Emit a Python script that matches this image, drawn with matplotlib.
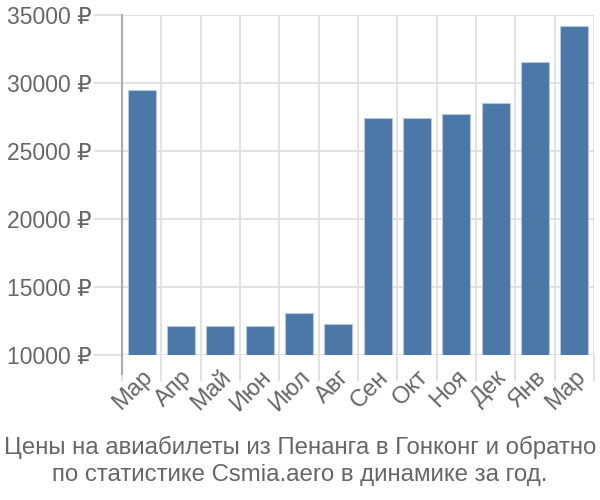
import matplotlib
matplotlib.use("Agg")
import matplotlib.pyplot as plt
from matplotlib.lines import Line2D
import numpy as np

months = ["Мар", "Апр", "Май", "Июн", "Июл", "Авг", "Сен", "Окт", "Ноя", "Дек", "Янв", "Мар"]
prices = [29450, 12130, 12130, 12130, 13090, 12270, 27420, 27420, 27700, 28550, 31580, 34200]
yticks = [10000, 15000, 20000, 25000, 30000, 35000]

plt.rcParams["font.family"] = ["Liberation Sans", "DejaVu Sans"]

fig = plt.figure(figsize=(6, 5), dpi=100)
ax = fig.add_axes([122 / 600, 1 - 355 / 500, 472 / 600, 340 / 500])

x = np.arange(len(months))
ax.bar(x, prices, width=0.72, color="#4c78a8", edgecolor="#b5c7dc", linewidth=0.8, zorder=3)

ax.set_xlim(-0.5, len(months) - 0.5)
ax.set_ylim(10000, 35000)

ax.set_yticks(yticks)
ax.set_yticklabels([f"{v} ₽" for v in yticks])
ax.set_xticks(x)
ax.set_xticklabels(months, rotation=45, ha="right", rotation_mode="anchor")
ax.set_xticks(np.arange(-0.5, len(months)), minor=True)

ax.tick_params(axis="y", length=20, width=1.2, color="#dddddd", labelsize=16.5, labelcolor="#666666", pad=2)
ax.tick_params(axis="x", which="major", length=0, labelsize=17, labelcolor="#666666", pad=8)
ax.tick_params(axis="x", which="minor", length=19, width=1.2, color="#dddddd")

ax.grid(axis="y", color="#dddddd", linewidth=1.2, zorder=0)
ax.grid(axis="x", which="minor", color="#dddddd", linewidth=1.2, zorder=0)

for s in ["top", "right", "bottom", "left"]:
    ax.spines[s].set_visible(False)
ax.add_line(Line2D([0, 0], [-19 / 340, 1], transform=ax.transAxes, color="#aaaaaa",
                   linewidth=1.5, clip_on=False, zorder=4))

fig.text(0.5, 1 - 447 / 500, "Цены на авиабилеты из Пенанга в Гонконг и обратно",
         ha="center", va="center", fontsize=17.3, color="#666666")
fig.text(0.5, 1 - 475 / 500, "по статистике Csmia.aero в динамике за год.",
         ha="center", va="center", fontsize=17.3, color="#666666")

fig.savefig("out.png", dpi=100)
